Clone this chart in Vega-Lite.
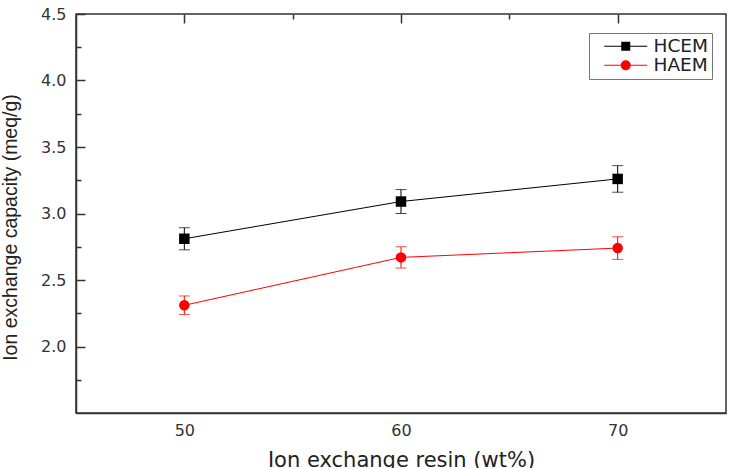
{
  "$schema": "https://vega.github.io/schema/vega-lite/v6.json",
  "width": 650,
  "height": 399,
  "autosize": {"type": "none"},
  "padding": {"left": 76, "top": 14, "right": 5, "bottom": 55},
  "background": "white",
  "config": {
    "view": {"stroke": "#333333", "strokeWidth": 1.5},
    "axis": {
      "ticks": false,
      "grid": true,
      "gridColor": "#333333",
      "gridWidth": 1.5,
      "gridOpacity": 1,
      "domainColor": "#333333",
      "domainWidth": 1.5,
      "labelColor": "#333333",
      "labelFont": "DejaVu Sans",
      "labelFontSize": 16,
      "titleColor": "#222222",
      "titleFontWeight": "normal"
    }
  },
  "data": {
    "values": [
      {"series": "HCEM", "wt": 50, "value": 2.81, "err": 0.083},
      {"series": "HCEM", "wt": 60, "value": 3.09, "err": 0.09},
      {"series": "HCEM", "wt": 70, "value": 3.26, "err": 0.1},
      {"series": "HAEM", "wt": 50, "value": 2.31, "err": 0.07},
      {"series": "HAEM", "wt": 60, "value": 2.67, "err": 0.08},
      {"series": "HAEM", "wt": 70, "value": 2.74, "err": 0.085}
    ]
  },
  "encoding": {
    "x": {
      "field": "wt",
      "type": "quantitative",
      "scale": {"domain": [45, 75], "nice": false, "zero": false},
      "axis": {
        "values": [50, 55, 60, 65, 70],
        "labelExpr": "datum.value % 10 === 0 ? datum.label : ''",
        "labelPadding": 9,
        "gridDash": {"condition": {"test": "datum.value % 10 === 0", "value": [9, 2000]}, "value": [5, 2000]},
        "title": "Ion exchange resin (wt%)",
        "titleFont": "DejaVu Sans",
        "titleFontSize": 21,
        "titlePadding": 11
      }
    },
    "y": {
      "field": "value",
      "type": "quantitative",
      "scale": {"domain": [1.5, 4.5], "nice": false, "zero": false},
      "axis": {
        "values": [1.75, 2, 2.25, 2.5, 2.75, 3, 3.25, 3.5, 3.75, 4, 4.25, 4.5],
        "labelExpr": "datum.value % 0.5 === 0 ? format(datum.value, '.1f') : ''",
        "labelPadding": 10,
        "gridDash": {"condition": {"test": "datum.value % 0.5 === 0", "value": [9, 2000]}, "value": [5, 2000]},
        "title": "Ion exchange capacity (meq/g)",
        "titleFont": "Liberation Sans",
        "titleFontSize": 19.5,
        "titlePadding": 20,
        "titleY": 213
      }
    },
    "color": {
      "field": "series",
      "type": "nominal",
      "scale": {"domain": ["HCEM", "HAEM"], "range": ["#000000", "#ff0000"]},
      "legend": null
    }
  },
  "layer": [
    {"mark": {"type": "line", "strokeWidth": 1}},
    {
      "mark": {"type": "errorbar", "thickness": 1, "ticks": {"size": 11, "thickness": 1}},
      "encoding": {"yError": {"field": "err"}}
    },
    {
      "mark": {"type": "point", "filled": true, "opacity": 1, "size": 110},
      "encoding": {
        "shape": {
          "field": "series",
          "type": "nominal",
          "scale": {"domain": ["HCEM", "HAEM"], "range": ["square", "circle"]},
          "legend": null
        }
      }
    },
    {
      "transform": [{"filter": "datum.wt < 0"}],
      "mark": {"type": "point", "filled": true, "opacity": 1},
      "encoding": {
        "color": {
          "field": "series",
          "type": "nominal",
          "scale": {"domain": ["HCEM", "HAEM"], "range": ["#000000", "#ff0000"]},
          "legend": {
            "title": null,
            "orient": "none",
            "legendX": 513,
            "legendY": 19,
            "symbolSize": 4,
            "symbolStrokeWidth": 0,
            "symbolOffset": 3,
            "labelOffset": 39,
            "labelFont": "DejaVu Sans",
            "labelFontSize": 18.5,
            "labelColor": "#222222",
            "strokeColor": "#777777",
            "padding": 4,
            "rowPadding": 0
          }
        },
        "shape": {
          "field": "series",
          "type": "nominal",
          "scale": {
            "domain": ["HCEM", "HAEM"],
            "range": [
              "M-1,-0.5H16V0.5H-1ZM25,-0.5H42V0.5H25ZM16,-4.5H25V4.5H16Z",
              "M-1,-0.5H15.5V0.5H-1ZM25.5,-0.5H42V0.5H25.5ZM15.5,0A5,5,0,1,1,25.5,0A5,5,0,1,1,15.5,0Z"
            ]
          },
          "legend": {
            "title": null,
            "orient": "none",
            "legendX": 513,
            "legendY": 19,
            "symbolSize": 4,
            "symbolStrokeWidth": 0,
            "symbolOffset": 3,
            "labelOffset": 39,
            "labelFont": "DejaVu Sans",
            "labelFontSize": 18.5,
            "labelColor": "#222222",
            "strokeColor": "#777777",
            "padding": 4,
            "rowPadding": 0
          }
        }
      }
    }
  ],
  "resolve": {"scale": {"shape": "independent", "color": "independent"}}
}
